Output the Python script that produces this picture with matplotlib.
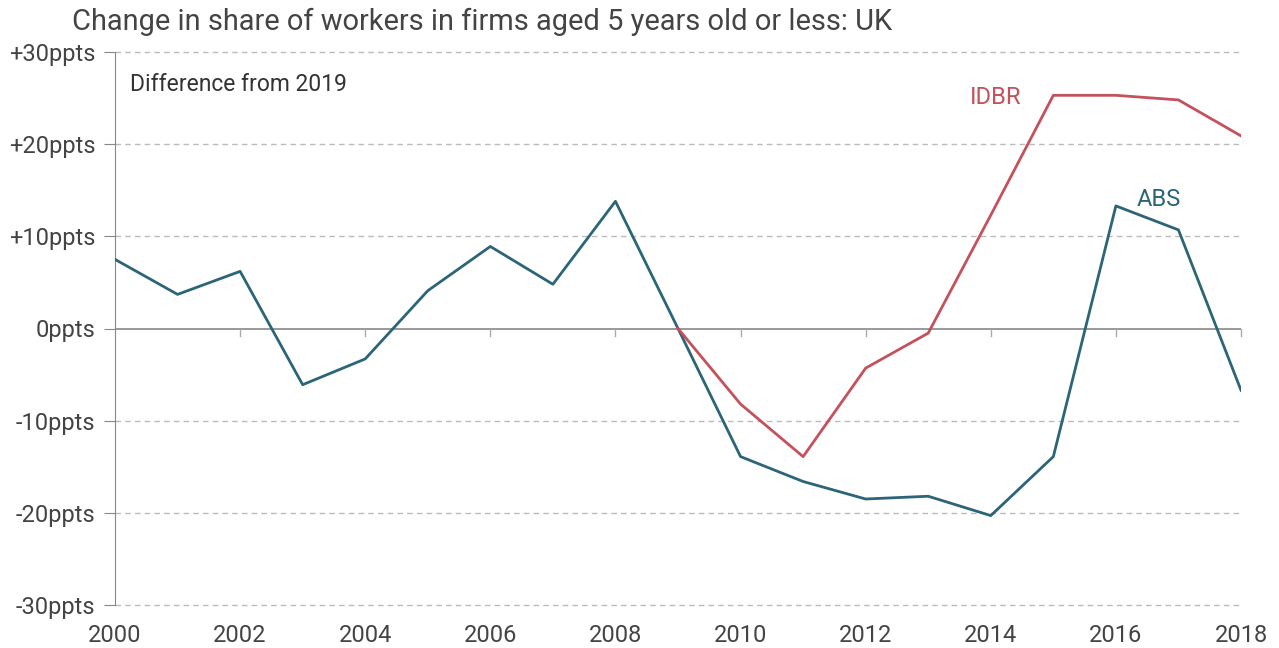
import matplotlib.pyplot as plt
import numpy as np

plt.rcParams['font.family'] = ['Roboto', 'DejaVu Sans']

years = list(range(2000, 2019))
abs_vals = [7.5, 3.7, 6.2, -6.1, -3.3, 4.1, 8.9, 4.8, 13.8, 0.0,
            -13.9, -16.6, -18.5, -18.2, -20.3, -13.9, 13.3, 10.7, -6.7]
idbr_years = list(range(2009, 2019))
idbr_vals = [0.0, -8.2, -13.9, -4.3, -0.5, 12.3, 25.3, 25.3, 24.8, 20.9]

y_ticks = [-30, -20, -10, 0, 10, 20, 30]
y_labels = ['-30ppts', '-20ppts', '-10ppts', '0ppts', '+10ppts', '+20ppts', '+30ppts']

abs_color = '#2b6577'
idbr_color = '#c4515b'
text_color = '#444444'

fig = plt.figure(figsize=(12.79, 6.48), dpi=100)
ax = fig.add_axes([115 / 1279, 43 / 648, 1126 / 1279, 553 / 648])

for t in y_ticks:
    if t != 0:
        ax.axhline(t, color='#bbbbbb', lw=1, ls=(0, (4, 3)), zorder=1, clip_on=False)
ax.axhline(0, color='#888888', lw=1.2, zorder=2)

ax.plot(years, abs_vals, color=abs_color, lw=2, zorder=3)
ax.plot(idbr_years, idbr_vals, color=idbr_color, lw=2, zorder=3)

ax.set_xlim(2000, 2018)
ax.set_ylim(-30, 30)
ax.set_yticks(y_ticks)
ax.set_yticklabels(y_labels)
ax.set_xticks(range(2000, 2019, 2))
ax.tick_params(axis='y', length=8, color='#888888', labelsize=17, labelcolor=text_color, pad=6)
ax.tick_params(axis='x', length=0, labelsize=17, labelcolor=text_color, pad=14)

# small tick marks on the zero line
for x in range(2002, 2019, 2):
    ax.plot([x, x], [0, -0.8], color='#aaaaaa', lw=1, zorder=2, clip_on=False)

for s in ['top', 'right', 'bottom']:
    ax.spines[s].set_visible(False)
ax.spines['left'].set_color('#888888')

ax.text(2000.24, 26.5, 'Difference from 2019', fontsize=16.5, color='#333333', va='center')
ax.text(2013.67, 25.1, 'IDBR', fontsize=17, color=idbr_color, va='center')
ax.text(2016.33, 14.0, 'ABS', fontsize=17, color=abs_color, va='center')

fig.text(72 / 1279, 1 - 22 / 648, 'Change in share of workers in firms aged 5 years old or less: UK',
         fontsize=20.9, color=text_color, va='center')

fig.savefig('out.png', dpi=100)
